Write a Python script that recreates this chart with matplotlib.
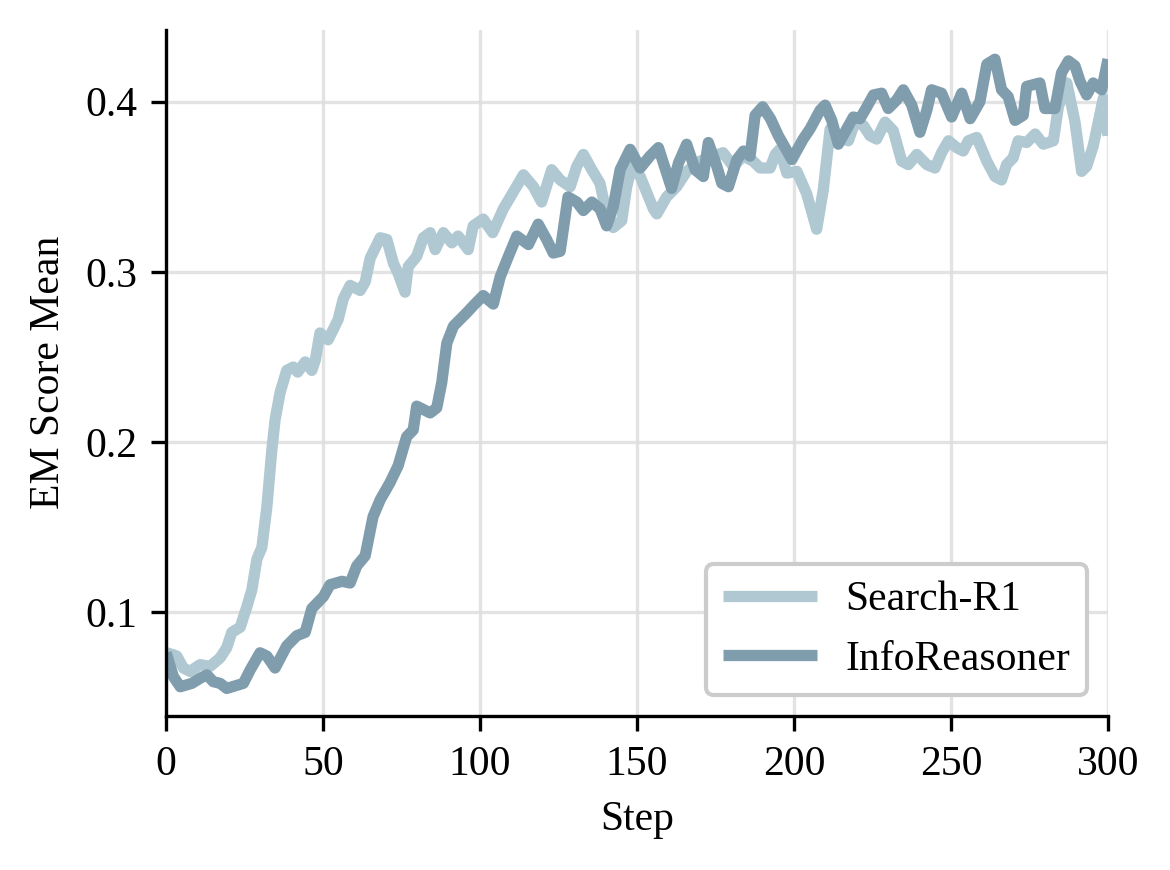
import matplotlib
matplotlib.use("Agg")
import matplotlib.pyplot as plt

plt.rcParams['font.family'] = ['Liberation Serif', 'DejaVu Serif']
plt.rcParams['font.size'] = 10

# Search-R1
search_steps = [0, 2, 3.4, 5.5, 7.6, 10.8, 14, 17.2, 19.3, 20.9, 23.6, 25.7, 27.3, 28.9,
                30.5, 32.1, 33.6, 34.7, 36.3, 38.4, 40.5, 41.9, 44.3, 46.4, 47.5, 49,
                51.6, 53.2, 54.8, 56.4, 58.6, 61.8, 63.4, 65, 68.2, 70.3, 72.4, 73.9,
                76.1, 77.1, 79.8, 81.9, 84.1, 85.7, 88.3, 91, 93, 96.2, 97.8, 101, 104,
                107.4, 110.6, 113.8, 117, 119.6, 122.8, 125.5, 128.7, 130.8, 132.9,
                135.6, 138.2, 139.8, 142.4, 145.1, 146.7, 148.3, 151, 155.2, 156.3,
                159.4, 162.6, 165.8, 170, 174.3, 177.4, 180.6, 183.8, 187, 189.2, 192.4,
                194, 195.5, 197.7, 200.9, 204, 207.2, 209.3, 211.5, 214.1, 217.3, 219.4,
                222.1, 224.2, 226.3, 229, 231.6, 234.3, 236.4, 239.1, 242.3, 244.9, 247,
                249.2, 251.8, 253.9, 255.5, 258.2, 261.4, 264, 266.1, 267.7, 269.8,
                271.4, 274.1, 276.8, 279.4, 282.6, 284.2, 286.9, 289.5, 291.6, 293.2,
                295.3, 296.9, 298.5, 300]
search_r1 = [0.076, 0.075, 0.074, 0.067, 0.065, 0.069, 0.068, 0.073, 0.079, 0.088, 0.091,
             0.103, 0.113, 0.131, 0.138, 0.162, 0.194, 0.213, 0.229, 0.242, 0.244, 0.241,
             0.247, 0.242, 0.248, 0.264, 0.260, 0.266, 0.272, 0.284, 0.292, 0.289, 0.294,
             0.308, 0.320, 0.319, 0.305, 0.299, 0.288, 0.303, 0.309, 0.320, 0.323, 0.313,
             0.323, 0.317, 0.321, 0.313, 0.327, 0.331, 0.323, 0.337, 0.347, 0.357, 0.350,
             0.341, 0.360, 0.354, 0.350, 0.362, 0.369, 0.360, 0.352, 0.338, 0.326, 0.330,
             0.350, 0.362, 0.356, 0.337, 0.334, 0.344, 0.350, 0.359, 0.365, 0.368, 0.370,
             0.362, 0.368, 0.365, 0.361, 0.361, 0.369, 0.372, 0.358, 0.359, 0.346, 0.325,
             0.348, 0.384, 0.379, 0.377, 0.388, 0.386, 0.380, 0.378, 0.388, 0.383, 0.365,
             0.363, 0.369, 0.363, 0.361, 0.370, 0.377, 0.373, 0.371, 0.377, 0.379, 0.365,
             0.356, 0.354, 0.363, 0.367, 0.377, 0.376, 0.381, 0.375, 0.377, 0.397, 0.411,
             0.388, 0.359, 0.362, 0.374, 0.388, 0.402, 0.380]

# InfoReasoner
info_steps = [0, 2.3, 4.5, 8.2, 10.8, 13, 15, 17.2, 19.3, 24.6, 26.8, 29.9, 32.1, 34.7,
              38.4, 41.6, 44.3, 46.4, 50.1, 52.2, 56, 58.6, 60.7, 63.4, 65.9, 68.2,
              71.3, 73.9, 76.6, 78.7, 79.8, 84.1, 86.2, 87.8, 89.4, 91.5, 95.8, 97.8,
              101, 104.2, 106.4, 109, 111.7, 115.4, 118.5, 121.2, 123.3, 125.5, 128,
              130.8, 132.9, 135.6, 138.2, 140.3, 142.4, 144.6, 147.8, 151, 154.1, 156.8,
              161, 163.2, 165.8, 168.5, 171.1, 172.7, 175.4, 177, 179.1, 181.8, 183.9,
              186, 187.6, 190, 192.5, 195, 199.3, 202.9, 205.1, 208.3, 209.9, 212, 214.1,
              218.9, 221, 223.2, 225.3, 227.9, 230, 232.7, 234.8, 237.5, 240.1, 242.3,
              243.8, 247, 250.2, 253.4, 256.1, 259.2, 261.4, 264, 266.1, 268.2, 270.4,
              273, 274.1, 278.3, 279.9, 283.1, 285.2, 287.4, 289.5, 291.1, 293.2, 295.3,
              298, 300]
info_reasoner = [0.076, 0.062, 0.056, 0.058, 0.061, 0.063, 0.059, 0.058, 0.055, 0.058,
                 0.066, 0.076, 0.074, 0.067, 0.080, 0.086, 0.088, 0.102, 0.109, 0.116,
                 0.118, 0.117, 0.127, 0.133, 0.156, 0.166, 0.176, 0.186, 0.203, 0.207,
                 0.221, 0.217, 0.220, 0.235, 0.258, 0.268, 0.276, 0.280, 0.286, 0.281,
                 0.297, 0.309, 0.321, 0.316, 0.328, 0.319, 0.311, 0.312, 0.344, 0.341,
                 0.336, 0.341, 0.337, 0.327, 0.338, 0.360, 0.372, 0.361, 0.368, 0.373,
                 0.349, 0.364, 0.375, 0.360, 0.356, 0.376, 0.362, 0.352, 0.350, 0.366,
                 0.371, 0.368, 0.392, 0.397, 0.390, 0.380, 0.366, 0.378, 0.384, 0.395,
                 0.398, 0.389, 0.375, 0.391, 0.390, 0.397, 0.404, 0.405, 0.396, 0.401,
                 0.407, 0.398, 0.382, 0.395, 0.407, 0.405, 0.391, 0.405, 0.390, 0.400,
                 0.422, 0.425, 0.407, 0.403, 0.389, 0.392, 0.409, 0.411, 0.396, 0.396,
                 0.417, 0.424, 0.421, 0.412, 0.404, 0.411, 0.407, 0.425]

fig = plt.figure(figsize=(3.9, 2.9), dpi=300)
ax = fig.add_axes([0.142, 0.177, 0.805, 0.789])

stile = dict(lw=2.7, solid_joinstyle='round', solid_capstyle='butt')
ax.plot(search_steps, search_r1, color='#afc8d2', label='Search-R1', **stile)
ax.plot(info_steps, info_reasoner, color='#809dae', label='InfoReasoner', **stile)

ax.set_xlim(0, 300)
ax.set_ylim(0.0388, 0.4424)
ax.set_xticks([0, 50, 100, 150, 200, 250, 300])
ax.set_yticks([0.1, 0.2, 0.3, 0.4])
ax.set_xlabel('Step')
ax.set_ylabel('EM Score Mean')
ax.grid(True, color='#dddddd', lw=0.8, alpha=0.8)
ax.set_axisbelow(True)
ax.spines['top'].set_visible(False)
ax.spines['right'].set_visible(False)

leg = ax.legend(loc='lower right', frameon=True, fancybox=True, framealpha=1,
                edgecolor='#cccccc', fontsize=10, handlelength=2.25,
                handletextpad=0.7)

fig.savefig('out.png', dpi=300)
